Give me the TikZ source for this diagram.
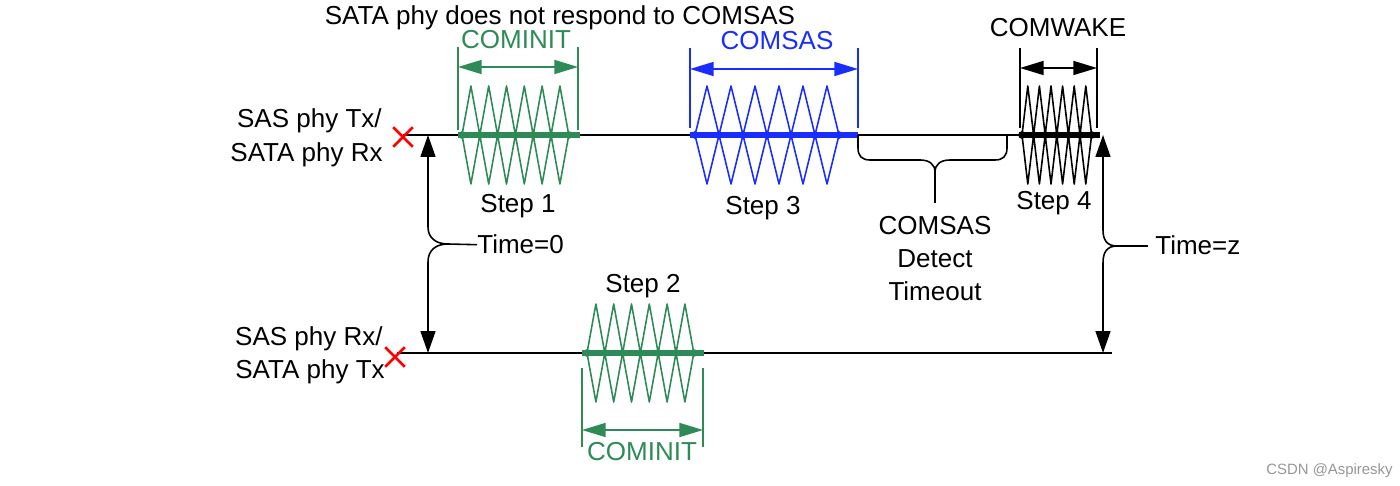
\documentclass[tikz,border=0pt]{standalone}
\usepackage{fontspec}
\setmainfont{Liberation Sans}
\usetikzlibrary{arrows.meta, positioning, shapes.misc}
\definecolor{cominitgreen}{RGB}{46,139,87}
\definecolor{comsasblue}{RGB}{25,45,255}
\definecolor{markgray}{RGB}{150,150,150}

\begin{document}
\begin{tikzpicture}[
    x=0.02cm, y=-0.02cm,
    font=\fontsize{14.8}{18.5}\selectfont,
    wire/.style={line width=0.9pt},
    bar/.style={line width=3.2pt},
    zig/.style={line width=0.9pt, line join=round},
    tick/.style={line width=0.9pt},
    span/.style={{Triangle[length=13.5pt, width=8pt]}-{Triangle[length=13.5pt, width=8pt]}, line width=0.9pt},
    varr/.style={-{Triangle[length=12.5pt, width=8.5pt]}, line width=0.9pt},
    lbl/.style={anchor=base, inner sep=0pt},
    xmark/.style={cross out, draw=red, line width=1.5pt, minimum size=0.34cm, inner sep=0pt}
]
\useasboundingbox (0,0) rectangle (1400,486);

% lines
\coordinate (txL) at (403,135);
\coordinate (txR) at (1100,135);
\coordinate (rxL) at (397,353);
\coordinate (rxR) at (1112,353);
\draw[wire] (txL) -- (txR);
\draw[wire] (rxL) -- (rxR);
\node[xmark] (xTop) at (403,137) {};
\node[xmark] (xBot) at (395,357) {};

% labels
\node[lbl] (title) at (560,25) {SATA phy does not respond to COMSAS};
\node[lbl, anchor=base east] (txA) at (382,128) {SAS phy Tx/};
\node[lbl, anchor=base east] (txB) at (383,162) {SATA phy Rx};
\node[lbl, anchor=base east] (rxA) at (383,345) {SAS phy Rx/};
\node[lbl, anchor=base east] (rxB) at (385,378) {SATA phy Tx};
\node[lbl] (step1) at (518,213) {Step 1};
\node[lbl] (step3) at (763,215) {Step 3};
\node[lbl] (step4) at (1054,210) {Step 4};
\node[lbl] (step2) at (643,293) {Step 2};
\node[lbl, text=cominitgreen] (initA) at (516,49) {COMINIT};
\node[lbl, text=comsasblue] (sas) at (777,50) {COMSAS};
\node[lbl] (wake) at (1058,37) {COMWAKE};
\node[lbl, text=cominitgreen] (initB) at (642,460) {COMINIT};
\node[lbl, align=center] (timeout) at (935,300) {COMSAS\\Detect\\Timeout};
\node[lbl, anchor=base west] (t0) at (477,254) {Time=0};
\node[lbl, anchor=base west] (tz) at (1155,255) {Time=z};
\node[lbl, anchor=base east, text=markgray, font=\fontsize{8.5}{10}\selectfont] (mark) at (1393,474) {CSDN @Aspiresky};

% bursts
\draw[bar, cominitgreen] (458,135) -- (580,135);
\draw[bar, comsasblue] (690,135) -- (858,135);
\draw[bar, black] (1020,135) -- (1100,135);
\draw[bar, cominitgreen] (582,353) -- (704,353);
\foreach \xs/\w/\yb/\col in {462/8.9/135/cominitgreen, 695/12/135/comsasblue, 1022/5.8/135/black, 587/8.9/353/cominitgreen} {
  \draw[zig, \col] (\xs,\yb) \foreach \k in {1,...,6} { -- ++(\w,-49) -- ++(\w,49) };
  \draw[zig, \col] (\xs,\yb) \foreach \k in {1,...,6} { -- ++(\w,49) -- ++(\w,-49) };
  \foreach \k in {0,...,6} \fill[\col] (\xs+2*\k*\w,\yb) circle (2.2pt);
}

% spans
\draw[tick, cominitgreen] (458,47) -- (458,130);
\draw[tick, cominitgreen] (578,47) -- (578,130);
\coordinate (sA1) at (458,67);
\coordinate (sA2) at (578,67);
\draw[span, cominitgreen] (sA1) -- (sA2);
\draw[tick, comsasblue] (690,48) -- (690,128);
\draw[tick, comsasblue] (858,48) -- (858,128);
\coordinate (sB1) at (690,69);
\coordinate (sB2) at (858,69);
\draw[span, comsasblue] (sB1) -- (sB2);
\draw[tick] (1020,48) -- (1020,128);
\draw[tick] (1097,48) -- (1097,128);
\coordinate (sC1) at (1020,68);
\coordinate (sC2) at (1097,68);
\draw[span] (sC1) -- (sC2);
\draw[tick, cominitgreen] (582,368) -- (582,447);
\draw[tick, cominitgreen] (703,368) -- (703,447);
\coordinate (sD1) at (582,430);
\coordinate (sD2) at (703,430);
\draw[span, cominitgreen] (sD1) -- (sD2);

% timeout brace
\coordinate (tbL) at (858,135);
\coordinate (tbR) at (1007,135);
\coordinate (tbTip) at (935,172);
\coordinate (tbEnd) at (935,203);
\draw[tick] (tbL) -- (858,148) .. controls (858,156) and (862,160) .. (870,160) -- (920,160)
  .. controls (929,160) and (935,164) .. (tbTip)
  .. controls (935,164) and (941,160) .. (950,160) -- (995,160)
  .. controls (1003,160) and (1007,156) .. (1007,148) -- (tbR);
\draw[tick] (tbTip) -- (tbEnd);

% time arrows
\coordinate (a0t) at (428,135);
\coordinate (a0b) at (428,353);
\coordinate (bt0) at (448,244);
\draw[varr] (bt0) .. controls (436,244) and (428,238) .. (428,227) -- (a0t);
\draw[varr] (bt0) .. controls (436,244) and (428,250) .. (428,262) -- (a0b);
\draw[wire] (bt0) -- (t0.west);
\coordinate (azt) at (1103,135);
\coordinate (azb) at (1103,353);
\coordinate (btz) at (1117,246);
\draw[varr] (btz) .. controls (1107,246) and (1103,240) .. (1103,230) -- (azt);
\draw[varr] (btz) .. controls (1107,246) and (1103,252) .. (1103,263) -- (azb);
\draw[wire] (btz) -- (1148,246);
\end{tikzpicture}
\end{document}
